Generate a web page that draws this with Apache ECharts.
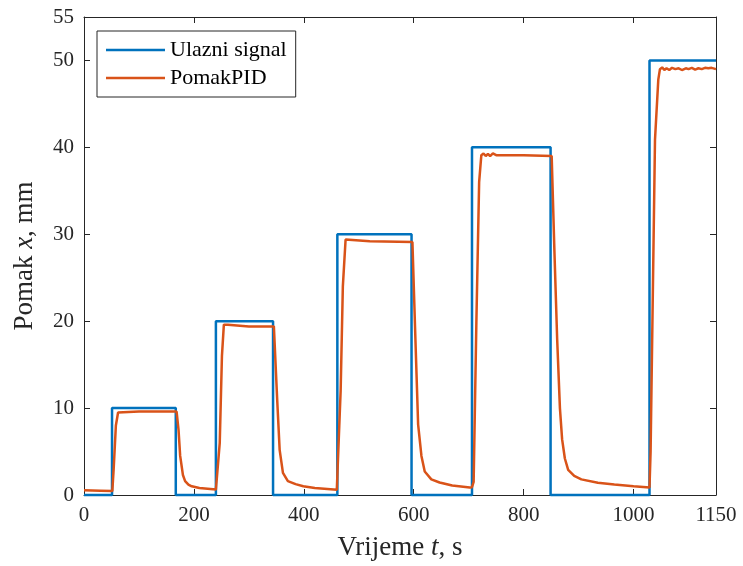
<!DOCTYPE html>
<html>
<head>
<meta charset="utf-8">
<title>Pomak PID</title>
<script src="https://cdn.jsdelivr.net/npm/echarts@6/dist/echarts.min.js"></script>
<style>
html, body { margin: 0; padding: 0; background: #fff; }
#chart { width: 743px; height: 566px; }
</style>
</head>
<body>
<div id="chart"></div>
<script>
// ulazni signal: level held from stepTimes[i] to stepTimes[i + 1]
const stepTimes = [0, 51, 167, 240, 344, 461, 596, 706, 849, 1029, 1150];
const stepLevels = [0, 10, 0, 20, 0, 30, 0, 40, 0, 50];

// odziv (PomakPID)
const pidTime = [
    0, 30, 51.5, 54, 58, 62, 64, 100, 168.5, 172, 175, 180, 184, 190, 196, 210, 240,
    243, 247, 251, 254.5, 258, 262, 265, 300, 345.5, 351.5, 356, 362, 371, 385, 399, 420, 460,
    463.6, 467, 471, 476, 479, 520, 597.6, 603, 608, 614, 620, 632, 647, 670, 702,
    706, 709, 714, 719, 723, 727, 731, 735, 739, 744, 750, 800, 851, 856, 861, 866, 870, 875,
    881, 892, 905, 935, 965, 1000, 1029,
    1031, 1039, 1045, 1048, 1052, 1056, 1060, 1065, 1070, 1076, 1082, 1088, 1095, 1100,
    1106, 1112, 1118, 1124, 1130, 1136, 1142, 1150
];
const pidValue = [
    0.55, 0.5, 0.45, 3, 8, 9.5, 9.6, 9.6, 9.6, 7.5, 4.5, 2.3, 1.6, 1.2, 1.0, 0.8, 0.62,
    0.6, 6, 16, 19.6, 19.4, 19.6, 19.4, 19.4, 19.4, 11, 5.2, 2.55, 1.6, 1.25, 1.0, 0.8, 0.6,
    0.7, 12, 24, 29.4, 29.2, 29.2, 29.1, 18, 8.1, 4.5, 2.7, 1.8, 1.44, 1.1, 0.85,
    0.9, 1.5, 20, 36, 39.1, 39.3, 39.0, 39.25, 39.0, 39.3, 39.1, 39.1, 39.0, 28, 17.9, 10, 6.4, 4.2,
    2.9, 2.2, 1.8, 1.4, 1.2, 1.0, 0.86,
    5, 40.9, 47.8, 49.0, 49.2, 48.9, 49.1, 48.9, 49.15, 49.0, 49.1, 48.9, 49.1, 49.0,
    49.15, 48.95, 49.1, 49.0, 49.15, 49.1, 49.15, 49.0
];

const xTicks = [0, 200, 400, 600, 800, 1000, 1150];
const yTicks = [0, 10, 20, 30, 40, 50, 55];

const signalData = [];
for (let i = 0; i < stepLevels.length; i++) {
    signalData.push([stepTimes[i], stepLevels[i]]);
    signalData.push([stepTimes[i + 1], stepLevels[i]]);
}
const pidData = pidTime.map((t, i) => [t, pidValue[i]]);

const axisColor = '#262626';
const serif = '"Liberation Serif", "DejaVu Serif", serif';

function boxAxis(extra) {
    return Object.assign({
        type: 'value',
        splitLine: { show: false },
        axisLine: { show: true, onZero: false, lineStyle: { color: axisColor, width: 1 } },
        axisTick: { show: true, inside: true, length: 6, lineStyle: { color: axisColor } },
        axisLabel: { show: false }
    }, extra);
}

const nameStyle = {
    fontFamily: serif, fontSize: 27, color: '#262626',
    rich: { i: { fontFamily: serif, fontSize: 27, fontStyle: 'italic', color: '#262626' } }
};
const labelStyle = {
    show: true, margin: 10, fontSize: 21, color: '#262626', fontFamily: serif,
    formatter: v => String(v)
};

const myChart = echarts.init(document.getElementById('chart'));

const option = {
    animation: false,
    backgroundColor: '#fff',
    textStyle: { fontFamily: serif },
    grid: { left: 84, right: 27, top: 17, bottom: 71 },
    legend: {
        orient: 'vertical',
        left: 97,
        top: 31,
        padding: [8, 9, 8, 9],
        icon: 'rect',
        itemWidth: 59,
        itemHeight: 2.5,
        itemGap: 6,
        backgroundColor: '#fff',
        borderColor: axisColor,
        borderWidth: 1,
        borderRadius: 0,
        textStyle: { fontFamily: serif, fontSize: 22, lineHeight: 20, color: '#000' },
        data: ['Ulazni signal', 'PomakPID']
    },
    xAxis: [
        boxAxis({
            min: 0, max: 1150,
            position: 'bottom',
            name: 'Vrijeme {i|t}, s',
            nameLocation: 'middle',
            nameGap: 39,
            nameTextStyle: nameStyle,
            axisTick: { show: true, inside: true, length: 6, customValues: xTicks, lineStyle: { color: axisColor } },
            axisLabel: Object.assign({ customValues: xTicks }, labelStyle)
        }),
        boxAxis({
            min: 0, max: 1150,
            position: 'top',
            axisTick: { show: true, inside: true, length: 6, customValues: xTicks, lineStyle: { color: axisColor } }
        })
    ],
    yAxis: [
        boxAxis({
            min: 0, max: 55,
            position: 'left',
            name: 'Pomak {i|x}, mm',
            nameLocation: 'middle',
            nameGap: 46,
            nameTextStyle: nameStyle,
            axisTick: { show: true, inside: true, length: 6, customValues: yTicks, lineStyle: { color: axisColor } },
            axisLabel: Object.assign({ customValues: yTicks }, labelStyle)
        }),
        boxAxis({
            min: 0, max: 55,
            position: 'right',
            axisTick: { show: true, inside: true, length: 6, customValues: yTicks, lineStyle: { color: axisColor } }
        })
    ],
    series: [
        {
            name: 'Ulazni signal',
            type: 'line',
            data: signalData,
            symbol: 'none',
            clip: false,
            lineStyle: { color: '#0072BD', width: 2.5 },
            itemStyle: { color: '#0072BD' },
            z: 3
        },
        {
            name: 'PomakPID',
            type: 'line',
            data: pidData,
            symbol: 'none',
            clip: false,
            lineStyle: { color: '#D95319', width: 2.5 },
            itemStyle: { color: '#D95319' },
            z: 4
        }
    ]
};

myChart.setOption(option);
</script>
</body>
</html>
